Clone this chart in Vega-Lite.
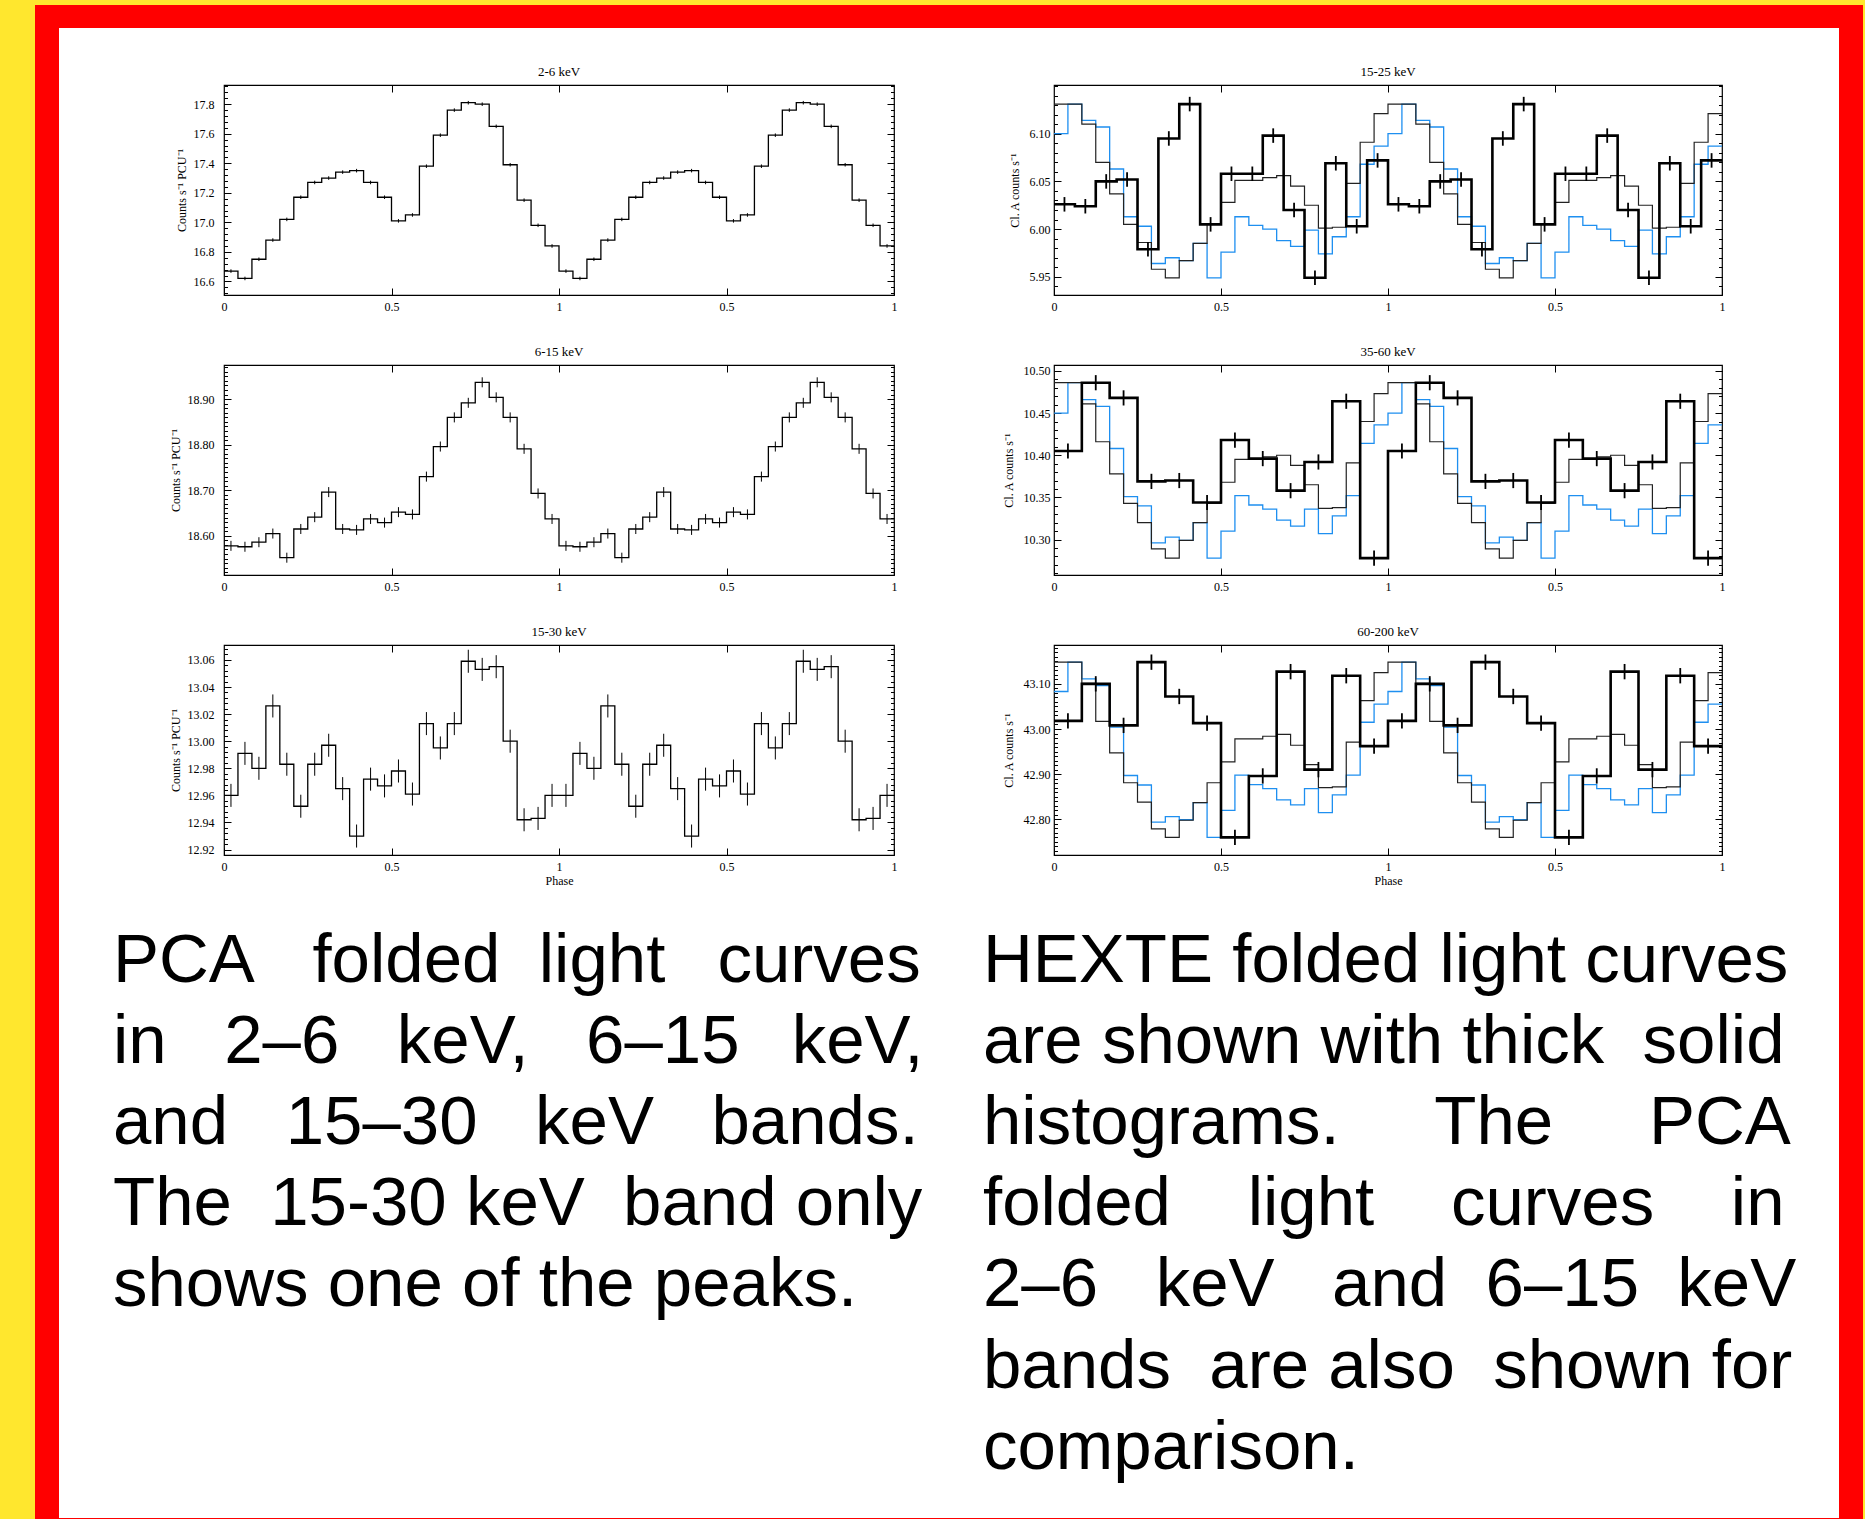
{
"$schema":"https://vega.github.io/schema/vega-lite/v6.json",
"background":"white",
"padding":0,
"spacing":0,
"config":{
 "view":{"stroke":null},
 "font":"Liberation Serif",
 "axis":{"domain":false,"grid":false,"labelFont":"Liberation Serif","labelFontSize":12,"labelColor":"black","titleFont":"Liberation Serif","titleFontSize":12,"titleFontWeight":"normal","titleColor":"black","tickColor":"black","tickWidth":1,"labelFlush":false,"labelOverlap":false,"labelBound":false},
 "axisX":{"titlePadding":3},
 "title":{"font":"Liberation Serif","fontSize":13,"fontWeight":"normal","color":"black","offset":6,"frame":"group","anchor":"middle"}
},
"datasets":{
"a26":[{"p":0,"v":16.67},{"p":0.0208,"v":16.67,"e":0.012},{"p":0.0625,"v":16.62,"e":0.012},{"p":0.1042,"v":16.75,"e":0.012},{"p":0.1458,"v":16.88,"e":0.012},{"p":0.1875,"v":17.02,"e":0.012},{"p":0.2292,"v":17.17,"e":0.012},{"p":0.2708,"v":17.27,"e":0.012},{"p":0.3125,"v":17.3,"e":0.012},{"p":0.3542,"v":17.34,"e":0.012},{"p":0.3958,"v":17.35,"e":0.012},{"p":0.4375,"v":17.27,"e":0.012},{"p":0.4792,"v":17.17,"e":0.012},{"p":0.5208,"v":17.01,"e":0.012},{"p":0.5625,"v":17.05,"e":0.012},{"p":0.6042,"v":17.38,"e":0.012},{"p":0.6458,"v":17.59,"e":0.012},{"p":0.6875,"v":17.76,"e":0.012},{"p":0.7292,"v":17.81,"e":0.012},{"p":0.7708,"v":17.8,"e":0.012},{"p":0.8125,"v":17.65,"e":0.012},{"p":0.8542,"v":17.39,"e":0.012},{"p":0.8958,"v":17.15,"e":0.012},{"p":0.9375,"v":16.98,"e":0.012},{"p":0.9792,"v":16.84,"e":0.012},
{"p":1.0208,"v":16.67,"e":0.012},{"p":1.0625,"v":16.62,"e":0.012},{"p":1.1042,"v":16.75,"e":0.012},{"p":1.1458,"v":16.88,"e":0.012},{"p":1.1875,"v":17.02,"e":0.012},{"p":1.2292,"v":17.17,"e":0.012},{"p":1.2708,"v":17.27,"e":0.012},{"p":1.3125,"v":17.3,"e":0.012},{"p":1.3542,"v":17.34,"e":0.012},{"p":1.3958,"v":17.35,"e":0.012},{"p":1.4375,"v":17.27,"e":0.012},{"p":1.4792,"v":17.17,"e":0.012},{"p":1.5208,"v":17.01,"e":0.012},{"p":1.5625,"v":17.05,"e":0.012},{"p":1.6042,"v":17.38,"e":0.012},{"p":1.6458,"v":17.59,"e":0.012},{"p":1.6875,"v":17.76,"e":0.012},{"p":1.7292,"v":17.81,"e":0.012},{"p":1.7708,"v":17.8,"e":0.012},{"p":1.8125,"v":17.65,"e":0.012},{"p":1.8542,"v":17.39,"e":0.012},{"p":1.8958,"v":17.15,"e":0.012},{"p":1.9375,"v":16.98,"e":0.012},{"p":1.9792,"v":16.84,"e":0.012},{"p":2,"v":16.84}],
"a615":[{"p":0,"v":18.578},{"p":0.0208,"v":18.578,"e":0.011},{"p":0.0625,"v":18.576,"e":0.011},{"p":0.1042,"v":18.586,"e":0.011},{"p":0.1458,"v":18.605,"e":0.011},{"p":0.1875,"v":18.552,"e":0.011},{"p":0.2292,"v":18.615,"e":0.011},{"p":0.2708,"v":18.641,"e":0.011},{"p":0.3125,"v":18.696,"e":0.011},{"p":0.3542,"v":18.615,"e":0.011},{"p":0.3958,"v":18.613,"e":0.011},{"p":0.4375,"v":18.637,"e":0.011},{"p":0.4792,"v":18.629,"e":0.011},{"p":0.5208,"v":18.652,"e":0.011},{"p":0.5625,"v":18.647,"e":0.011},{"p":0.6042,"v":18.73,"e":0.011},{"p":0.6458,"v":18.796,"e":0.011},{"p":0.6875,"v":18.86,"e":0.011},{"p":0.7292,"v":18.892,"e":0.011},{"p":0.7708,"v":18.937,"e":0.011},{"p":0.8125,"v":18.904,"e":0.011},{"p":0.8542,"v":18.86,"e":0.011},{"p":0.8958,"v":18.791,"e":0.011},{"p":0.9375,"v":18.693,"e":0.011},{"p":0.9792,"v":18.637,"e":0.011},
{"p":1.0208,"v":18.578,"e":0.011},{"p":1.0625,"v":18.576,"e":0.011},{"p":1.1042,"v":18.586,"e":0.011},{"p":1.1458,"v":18.605,"e":0.011},{"p":1.1875,"v":18.552,"e":0.011},{"p":1.2292,"v":18.615,"e":0.011},{"p":1.2708,"v":18.641,"e":0.011},{"p":1.3125,"v":18.696,"e":0.011},{"p":1.3542,"v":18.615,"e":0.011},{"p":1.3958,"v":18.613,"e":0.011},{"p":1.4375,"v":18.637,"e":0.011},{"p":1.4792,"v":18.629,"e":0.011},{"p":1.5208,"v":18.652,"e":0.011},{"p":1.5625,"v":18.647,"e":0.011},{"p":1.6042,"v":18.73,"e":0.011},{"p":1.6458,"v":18.796,"e":0.011},{"p":1.6875,"v":18.86,"e":0.011},{"p":1.7292,"v":18.892,"e":0.011},{"p":1.7708,"v":18.937,"e":0.011},{"p":1.8125,"v":18.904,"e":0.011},{"p":1.8542,"v":18.86,"e":0.011},{"p":1.8958,"v":18.791,"e":0.011},{"p":1.9375,"v":18.693,"e":0.011},{"p":1.9792,"v":18.637,"e":0.011},{"p":2,"v":18.637}],
"a1530":[{"p":0,"v":12.96},{"p":0.0208,"v":12.96,"e":0.0085},{"p":0.0625,"v":12.991,"e":0.0085},{"p":0.1042,"v":12.98,"e":0.0085},{"p":0.1458,"v":13.026,"e":0.0085},{"p":0.1875,"v":12.983,"e":0.0085},{"p":0.2292,"v":12.952,"e":0.0085},{"p":0.2708,"v":12.983,"e":0.0085},{"p":0.3125,"v":12.997,"e":0.0085},{"p":0.3542,"v":12.965,"e":0.0085},{"p":0.3958,"v":12.93,"e":0.0085},{"p":0.4375,"v":12.972,"e":0.0085},{"p":0.4792,"v":12.967,"e":0.0085},{"p":0.5208,"v":12.978,"e":0.0085},{"p":0.5625,"v":12.961,"e":0.0085},{"p":0.6042,"v":13.013,"e":0.0085},{"p":0.6458,"v":12.995,"e":0.0085},{"p":0.6875,"v":13.013,"e":0.0085},{"p":0.7292,"v":13.059,"e":0.0085},{"p":0.7708,"v":13.053,"e":0.0085},{"p":0.8125,"v":13.055,"e":0.0085},{"p":0.8542,"v":13.0,"e":0.0085},{"p":0.8958,"v":12.942,"e":0.0085},{"p":0.9375,"v":12.943,"e":0.0085},{"p":0.9792,"v":12.96,"e":0.0085},
{"p":1.0208,"v":12.96,"e":0.0085},{"p":1.0625,"v":12.991,"e":0.0085},{"p":1.1042,"v":12.98,"e":0.0085},{"p":1.1458,"v":13.026,"e":0.0085},{"p":1.1875,"v":12.983,"e":0.0085},{"p":1.2292,"v":12.952,"e":0.0085},{"p":1.2708,"v":12.983,"e":0.0085},{"p":1.3125,"v":12.997,"e":0.0085},{"p":1.3542,"v":12.965,"e":0.0085},{"p":1.3958,"v":12.93,"e":0.0085},{"p":1.4375,"v":12.972,"e":0.0085},{"p":1.4792,"v":12.967,"e":0.0085},{"p":1.5208,"v":12.978,"e":0.0085},{"p":1.5625,"v":12.961,"e":0.0085},{"p":1.6042,"v":13.013,"e":0.0085},{"p":1.6458,"v":12.995,"e":0.0085},{"p":1.6875,"v":13.013,"e":0.0085},{"p":1.7292,"v":13.059,"e":0.0085},{"p":1.7708,"v":13.053,"e":0.0085},{"p":1.8125,"v":13.055,"e":0.0085},{"p":1.8542,"v":13.0,"e":0.0085},{"p":1.8958,"v":12.942,"e":0.0085},{"p":1.9375,"v":12.943,"e":0.0085},{"p":1.9792,"v":12.96,"e":0.0085},{"p":2,"v":12.96}],
"h1525":[{"p":0,"v":6.026},{"p":0.0313,"v":6.026,"e":0.0076},{"p":0.0938,"v":6.024,"e":0.0076},{"p":0.1563,"v":6.05,"e":0.0076},{"p":0.2188,"v":6.052,"e":0.0076},{"p":0.2813,"v":5.979,"e":0.0076},{"p":0.3438,"v":6.095,"e":0.0076},{"p":0.4063,"v":6.131,"e":0.0076},{"p":0.4688,"v":6.005,"e":0.0076},{"p":0.5313,"v":6.058,"e":0.0076},{"p":0.5938,"v":6.058,"e":0.0076},{"p":0.6563,"v":6.098,"e":0.0076},{"p":0.7188,"v":6.02,"e":0.0076},{"p":0.7813,"v":5.949,"e":0.0076},{"p":0.8438,"v":6.069,"e":0.0076},{"p":0.9063,"v":6.003,"e":0.0076},{"p":0.9688,"v":6.072,"e":0.0076},
{"p":1.0313,"v":6.026,"e":0.0076},{"p":1.0938,"v":6.024,"e":0.0076},{"p":1.1563,"v":6.05,"e":0.0076},{"p":1.2188,"v":6.052,"e":0.0076},{"p":1.2813,"v":5.979,"e":0.0076},{"p":1.3438,"v":6.095,"e":0.0076},{"p":1.4063,"v":6.131,"e":0.0076},{"p":1.4688,"v":6.005,"e":0.0076},{"p":1.5313,"v":6.058,"e":0.0076},{"p":1.5938,"v":6.058,"e":0.0076},{"p":1.6563,"v":6.098,"e":0.0076},{"p":1.7188,"v":6.02,"e":0.0076},{"p":1.7813,"v":5.949,"e":0.0076},{"p":1.8438,"v":6.069,"e":0.0076},{"p":1.9063,"v":6.003,"e":0.0076},{"p":1.9688,"v":6.072,"e":0.0076},{"p":2,"v":6.072}],
"t1525":[{"p":0,"v":6.131},{"p":0.0208,"v":6.131},{"p":0.0625,"v":6.131},{"p":0.1042,"v":6.11},{"p":0.1458,"v":6.07},{"p":0.1875,"v":6.037},{"p":0.2292,"v":6.005},{"p":0.2708,"v":5.986},{"p":0.3125,"v":5.958},{"p":0.3542,"v":5.949},{"p":0.3958,"v":5.967},{"p":0.4375,"v":5.985},{"p":0.4792,"v":6.005},{"p":0.5208,"v":6.028},{"p":0.5625,"v":6.051},{"p":0.6042,"v":6.051},{"p":0.6458,"v":6.054},{"p":0.6875,"v":6.056},{"p":0.7292,"v":6.045},{"p":0.7708,"v":6.025},{"p":0.8125,"v":6.001},{"p":0.8542,"v":6.002},{"p":0.8958,"v":6.048},{"p":0.9375,"v":6.091},{"p":0.9792,"v":6.121},
{"p":1.0208,"v":6.131},{"p":1.0625,"v":6.131},{"p":1.1042,"v":6.11},{"p":1.1458,"v":6.07},{"p":1.1875,"v":6.037},{"p":1.2292,"v":6.005},{"p":1.2708,"v":5.986},{"p":1.3125,"v":5.958},{"p":1.3542,"v":5.949},{"p":1.3958,"v":5.967},{"p":1.4375,"v":5.985},{"p":1.4792,"v":6.005},{"p":1.5208,"v":6.028},{"p":1.5625,"v":6.051},{"p":1.6042,"v":6.051},{"p":1.6458,"v":6.054},{"p":1.6875,"v":6.056},{"p":1.7292,"v":6.045},{"p":1.7708,"v":6.025},{"p":1.8125,"v":6.001},{"p":1.8542,"v":6.002},{"p":1.8958,"v":6.048},{"p":1.9375,"v":6.091},{"p":1.9792,"v":6.121},{"p":2,"v":6.121}],
"b1525":[{"p":0,"v":6.1},{"p":0.0208,"v":6.1},{"p":0.0625,"v":6.131},{"p":0.1042,"v":6.114},{"p":0.1458,"v":6.107},{"p":0.1875,"v":6.063},{"p":0.2292,"v":6.013},{"p":0.2708,"v":6.003},{"p":0.3125,"v":5.964},{"p":0.3542,"v":5.97},{"p":0.3958,"v":5.967},{"p":0.4375,"v":5.985},{"p":0.4792,"v":5.949},{"p":0.5208,"v":5.976},{"p":0.5625,"v":6.013},{"p":0.6042,"v":6.004},{"p":0.6458,"v":6.0},{"p":0.6875,"v":5.988},{"p":0.7292,"v":5.982},{"p":0.7708,"v":5.999},{"p":0.8125,"v":5.974},{"p":0.8542,"v":5.992},{"p":0.8958,"v":6.013},{"p":0.9375,"v":6.068},{"p":0.9792,"v":6.087},
{"p":1.0208,"v":6.1},{"p":1.0625,"v":6.131},{"p":1.1042,"v":6.114},{"p":1.1458,"v":6.107},{"p":1.1875,"v":6.063},{"p":1.2292,"v":6.013},{"p":1.2708,"v":6.003},{"p":1.3125,"v":5.964},{"p":1.3542,"v":5.97},{"p":1.3958,"v":5.967},{"p":1.4375,"v":5.985},{"p":1.4792,"v":5.949},{"p":1.5208,"v":5.976},{"p":1.5625,"v":6.013},{"p":1.6042,"v":6.004},{"p":1.6458,"v":6.0},{"p":1.6875,"v":5.988},{"p":1.7292,"v":5.982},{"p":1.7708,"v":5.999},{"p":1.8125,"v":5.974},{"p":1.8542,"v":5.992},{"p":1.8958,"v":6.013},{"p":1.9375,"v":6.068},{"p":1.9792,"v":6.087},{"p":2,"v":6.087}],
"h3560":[{"p":0,"v":10.405},{"p":0.0417,"v":10.405,"e":0.009},{"p":0.125,"v":10.486,"e":0.009},{"p":0.2083,"v":10.468,"e":0.009},{"p":0.2917,"v":10.369,"e":0.009},{"p":0.375,"v":10.37,"e":0.009},{"p":0.4583,"v":10.344,"e":0.009},{"p":0.5417,"v":10.418,"e":0.009},{"p":0.625,"v":10.396,"e":0.009},{"p":0.7083,"v":10.358,"e":0.009},{"p":0.7917,"v":10.392,"e":0.009},{"p":0.875,"v":10.464,"e":0.009},{"p":0.9583,"v":10.278,"e":0.009},
{"p":1.0417,"v":10.405,"e":0.009},{"p":1.125,"v":10.486,"e":0.009},{"p":1.2083,"v":10.468,"e":0.009},{"p":1.2917,"v":10.369,"e":0.009},{"p":1.375,"v":10.37,"e":0.009},{"p":1.4583,"v":10.344,"e":0.009},{"p":1.5417,"v":10.418,"e":0.009},{"p":1.625,"v":10.396,"e":0.009},{"p":1.7083,"v":10.358,"e":0.009},{"p":1.7917,"v":10.392,"e":0.009},{"p":1.875,"v":10.464,"e":0.009},{"p":1.9583,"v":10.278,"e":0.009},{"p":2,"v":10.278}],
"t3560":[{"p":0,"v":10.486},{"p":0.0208,"v":10.486},{"p":0.0625,"v":10.486},{"p":0.1042,"v":10.461},{"p":0.1458,"v":10.416},{"p":0.1875,"v":10.378},{"p":0.2292,"v":10.343},{"p":0.2708,"v":10.32},{"p":0.3125,"v":10.289},{"p":0.3542,"v":10.278},{"p":0.3958,"v":10.299},{"p":0.4375,"v":10.32},{"p":0.4792,"v":10.343},{"p":0.5208,"v":10.368},{"p":0.5625,"v":10.395},{"p":0.6042,"v":10.395},{"p":0.6458,"v":10.398},{"p":0.6875,"v":10.4},{"p":0.7292,"v":10.388},{"p":0.7708,"v":10.365},{"p":0.8125,"v":10.337},{"p":0.8542,"v":10.338},{"p":0.8958,"v":10.391},{"p":0.9375,"v":10.44},{"p":0.9792,"v":10.473},
{"p":1.0208,"v":10.486},{"p":1.0625,"v":10.486},{"p":1.1042,"v":10.461},{"p":1.1458,"v":10.416},{"p":1.1875,"v":10.378},{"p":1.2292,"v":10.343},{"p":1.2708,"v":10.32},{"p":1.3125,"v":10.289},{"p":1.3542,"v":10.278},{"p":1.3958,"v":10.299},{"p":1.4375,"v":10.32},{"p":1.4792,"v":10.343},{"p":1.5208,"v":10.368},{"p":1.5625,"v":10.395},{"p":1.6042,"v":10.395},{"p":1.6458,"v":10.398},{"p":1.6875,"v":10.4},{"p":1.7292,"v":10.388},{"p":1.7708,"v":10.365},{"p":1.8125,"v":10.337},{"p":1.8542,"v":10.338},{"p":1.8958,"v":10.391},{"p":1.9375,"v":10.44},{"p":1.9792,"v":10.473},{"p":2,"v":10.473}],
"b3560":[{"p":0,"v":10.45},{"p":0.0208,"v":10.45},{"p":0.0625,"v":10.486},{"p":0.1042,"v":10.466},{"p":0.1458,"v":10.458},{"p":0.1875,"v":10.408},{"p":0.2292,"v":10.351},{"p":0.2708,"v":10.34},{"p":0.3125,"v":10.296},{"p":0.3542,"v":10.303},{"p":0.3958,"v":10.299},{"p":0.4375,"v":10.32},{"p":0.4792,"v":10.278},{"p":0.5208,"v":10.31},{"p":0.5625,"v":10.352},{"p":0.6042,"v":10.341},{"p":0.6458,"v":10.336},{"p":0.6875,"v":10.323},{"p":0.7292,"v":10.316},{"p":0.7708,"v":10.336},{"p":0.8125,"v":10.307},{"p":0.8542,"v":10.328},{"p":0.8958,"v":10.352},{"p":0.9375,"v":10.414},{"p":0.9792,"v":10.436},
{"p":1.0208,"v":10.45},{"p":1.0625,"v":10.486},{"p":1.1042,"v":10.466},{"p":1.1458,"v":10.458},{"p":1.1875,"v":10.408},{"p":1.2292,"v":10.351},{"p":1.2708,"v":10.34},{"p":1.3125,"v":10.296},{"p":1.3542,"v":10.303},{"p":1.3958,"v":10.299},{"p":1.4375,"v":10.32},{"p":1.4792,"v":10.278},{"p":1.5208,"v":10.31},{"p":1.5625,"v":10.352},{"p":1.6042,"v":10.341},{"p":1.6458,"v":10.336},{"p":1.6875,"v":10.323},{"p":1.7292,"v":10.316},{"p":1.7708,"v":10.336},{"p":1.8125,"v":10.307},{"p":1.8542,"v":10.328},{"p":1.8958,"v":10.352},{"p":1.9375,"v":10.414},{"p":1.9792,"v":10.436},{"p":2,"v":10.436}],
"h60":[{"p":0,"v":43.018},{"p":0.0417,"v":43.018,"e":0.017},{"p":0.125,"v":43.1,"e":0.017},{"p":0.2083,"v":43.008,"e":0.017},{"p":0.2917,"v":43.148,"e":0.017},{"p":0.375,"v":43.072,"e":0.017},{"p":0.4583,"v":43.013,"e":0.017},{"p":0.5417,"v":42.76,"e":0.017},{"p":0.625,"v":42.896,"e":0.017},{"p":0.7083,"v":43.127,"e":0.017},{"p":0.7917,"v":42.91,"e":0.017},{"p":0.875,"v":43.118,"e":0.017},{"p":0.9583,"v":42.962,"e":0.017},
{"p":1.0417,"v":43.018,"e":0.017},{"p":1.125,"v":43.1,"e":0.017},{"p":1.2083,"v":43.008,"e":0.017},{"p":1.2917,"v":43.148,"e":0.017},{"p":1.375,"v":43.072,"e":0.017},{"p":1.4583,"v":43.013,"e":0.017},{"p":1.5417,"v":42.76,"e":0.017},{"p":1.625,"v":42.896,"e":0.017},{"p":1.7083,"v":43.127,"e":0.017},{"p":1.7917,"v":42.91,"e":0.017},{"p":1.875,"v":43.118,"e":0.017},{"p":1.9583,"v":42.962,"e":0.017},{"p":2,"v":42.962}],
"t60":[{"p":0,"v":43.148},{"p":0.0208,"v":43.148},{"p":0.0625,"v":43.148},{"p":0.1042,"v":43.101},{"p":0.1458,"v":43.017},{"p":0.1875,"v":42.947},{"p":0.2292,"v":42.881},{"p":0.2708,"v":42.838},{"p":0.3125,"v":42.779},{"p":0.3542,"v":42.76},{"p":0.3958,"v":42.798},{"p":0.4375,"v":42.837},{"p":0.4792,"v":42.881},{"p":0.5208,"v":42.927},{"p":0.5625,"v":42.978},{"p":0.6042,"v":42.978},{"p":0.6458,"v":42.984},{"p":0.6875,"v":42.988},{"p":0.7292,"v":42.964},{"p":0.7708,"v":42.921},{"p":0.8125,"v":42.87},{"p":0.8542,"v":42.872},{"p":0.8958,"v":42.971},{"p":0.9375,"v":43.063},{"p":0.9792,"v":43.125},
{"p":1.0208,"v":43.148},{"p":1.0625,"v":43.148},{"p":1.1042,"v":43.101},{"p":1.1458,"v":43.017},{"p":1.1875,"v":42.947},{"p":1.2292,"v":42.881},{"p":1.2708,"v":42.838},{"p":1.3125,"v":42.779},{"p":1.3542,"v":42.76},{"p":1.3958,"v":42.798},{"p":1.4375,"v":42.837},{"p":1.4792,"v":42.881},{"p":1.5208,"v":42.927},{"p":1.5625,"v":42.978},{"p":1.6042,"v":42.978},{"p":1.6458,"v":42.984},{"p":1.6875,"v":42.988},{"p":1.7292,"v":42.964},{"p":1.7708,"v":42.921},{"p":1.8125,"v":42.87},{"p":1.8542,"v":42.872},{"p":1.8958,"v":42.971},{"p":1.9375,"v":43.063},{"p":1.9792,"v":43.125},{"p":2,"v":43.125}],
"b60":[{"p":0,"v":43.083},{"p":0.0208,"v":43.083},{"p":0.0625,"v":43.148},{"p":0.1042,"v":43.111},{"p":0.1458,"v":43.096},{"p":0.1875,"v":43.004},{"p":0.2292,"v":42.897},{"p":0.2708,"v":42.876},{"p":0.3125,"v":42.794},{"p":0.3542,"v":42.806},{"p":0.3958,"v":42.799},{"p":0.4375,"v":42.837},{"p":0.4792,"v":42.76},{"p":0.5208,"v":42.82},{"p":0.5625,"v":42.898},{"p":0.6042,"v":42.877},{"p":0.6458,"v":42.868},{"p":0.6875,"v":42.843},{"p":0.7292,"v":42.832},{"p":0.7708,"v":42.868},{"p":0.8125,"v":42.815},{"p":0.8542,"v":42.854},{"p":0.8958,"v":42.898},{"p":0.9375,"v":43.015},{"p":0.9792,"v":43.055},
{"p":1.0208,"v":43.083},{"p":1.0625,"v":43.148},{"p":1.1042,"v":43.111},{"p":1.1458,"v":43.096},{"p":1.1875,"v":43.004},{"p":1.2292,"v":42.897},{"p":1.2708,"v":42.876},{"p":1.3125,"v":42.794},{"p":1.3542,"v":42.806},{"p":1.3958,"v":42.799},{"p":1.4375,"v":42.837},{"p":1.4792,"v":42.76},{"p":1.5208,"v":42.82},{"p":1.5625,"v":42.898},{"p":1.6042,"v":42.877},{"p":1.6458,"v":42.868},{"p":1.6875,"v":42.843},{"p":1.7292,"v":42.832},{"p":1.7708,"v":42.868},{"p":1.8125,"v":42.815},{"p":1.8542,"v":42.854},{"p":1.8958,"v":42.898},{"p":1.9375,"v":43.015},{"p":1.9792,"v":43.055},{"p":2,"v":43.055}],
"capL":[{"line":1,"t":"PCA\u00a0\u00a0 folded\u00a0 light\u00a0\u2009 curves"},{"line":2,"t":"in\u00a0\u00a0 2–6\u00a0\u00a0 keV,\u00a0\u00a0 6–15\u00a0\u2009 keV,"},{"line":3,"t":"and\u00a0\u00a0 15–30\u00a0\u00a0 keV\u00a0\u00a0 bands."},{"line":4,"t":"The\u00a0 15-30 keV\u00a0 band only"},{"line":5,"t":"shows one of the peaks."}],
"capR":[{"line":1,"t":"HEXTE folded light curves"},{"line":2,"t":"are shown with thick\u00a0 solid"},{"line":3,"t":"histograms.\u00a0\u00a0\u00a0\u00a0 The\u00a0\u00a0\u00a0\u00a0 PCA"},{"line":4,"t":"folded\u00a0\u00a0\u00a0 light\u00a0\u00a0\u00a0 curves\u00a0\u00a0\u00a0 in"},{"line":5,"t":"2–6\u00a0\u00a0 keV\u00a0\u00a0 and\u00a0 6–15\u00a0 keV"},{"line":6,"t":"bands\u00a0 are also\u00a0 shown for"},{"line":7,"t":"comparison."}]
},
"hconcat":[
 {"width":35,"height":1519,"data":{"values":[]},"mark":"rect","view":{"fill":"#FFE72E","stroke":null}},
 {"spacing":0,"vconcat":[
  {"width":1828,"height":5,"data":{"values":[]},"mark":"rect","view":{"fill":"#FFE72E","stroke":null}},
  {"spacing":0,"hconcat":[
   {"width":24,"height":1514,"data":{"values":[]},"mark":"rect","view":{"fill":"#FF0000","stroke":null}},
   {"spacing":0,"vconcat":[
    {"width":1780,"height":23,"data":{"values":[]},"mark":"rect","view":{"fill":"#FF0000","stroke":null}},
    {"spacing":0,"vconcat":[
     {"width":1780,"height":36,"data":{"values":[]},"mark":"rect"},
     {"spacing":0,"hconcat":[
      {"width":109,"height":1,"data":{"values":[]},"mark":"rect"},
      {"spacing":31,"vconcat":[
       {"width":670,"height":210,"title":{"text":"2-6 keV"},"view":{"stroke":"black","strokeWidth":1.2},
        "resolve":{"axis":{"x":"independent","y":"independent"}},
        "layer":[
         {"data":{"name":"a26"},"mark":{"type":"line","interpolate":"step","color":"black","strokeWidth":1.3},
          "encoding":{"x":{"field":"p","type":"quantitative","scale":{"domain":[0,2],"nice":false,"zero":false},"axis":null},"y":{"field":"v","type":"quantitative","scale":{"domain":[16.508,17.93],"nice":false,"zero":false},"axis":null}}},
         {"data":{"name":"a26"},"transform":[{"filter":{"field":"e","valid":true}}],"mark":{"type":"errorbar","color":"black","thickness":1},
          "encoding":{"x":{"field":"p","type":"quantitative","axis":null},"y":{"field":"v","type":"quantitative","axis":null},"yError":{"field":"e"}}},
         {"data":{"name":"a26"},"mark":{"type":"point","opacity":0},
          "encoding":{"x":{"field":"p","type":"quantitative","axis":{"orient":"bottom","values":[0,0.5,1,1.5,2],"labelExpr":"datum.value > 1 ? '' + (datum.value - 1) : '' + datum.value","tickSize":-7,"labelPadding":13,"title":null}},
                      "y":{"field":"v","type":"quantitative","axis":{"orient":"left","values":[16.6,16.8,17.0,17.2,17.4,17.6,17.8],"format":".1f","tickSize":-7,"labelPadding":17,"title":"Counts s⁻¹ PCU⁻¹","titlePadding":5}}}},
         {"data":{"name":"a26"},"mark":{"type":"point","opacity":0},
          "encoding":{"x":{"field":"p","type":"quantitative","axis":{"orient":"top","values":[0.5,1,1.5],"labels":false,"tickSize":-7,"title":null}},
                      "y":{"field":"v","type":"quantitative","axis":{"orient":"right","values":[16.6,16.8,17.0,17.2,17.4,17.6,17.8],"labels":false,"tickSize":-7,"title":null}}}},
         {"data":{"name":"a26"},"mark":{"type":"point","opacity":0},
          "encoding":{"x":{"field":"p","type":"quantitative","axis":null},
                      "y":{"field":"v","type":"quantitative","axis":{"orient":"left","values":[16.52,16.56,16.6,16.64,16.68,16.72,16.76,16.8,16.84,16.88,16.92,16.96,17,17.04,17.08,17.12,17.16,17.2,17.24,17.28,17.32,17.36,17.4,17.44,17.48,17.52,17.56,17.6,17.64,17.68,17.72,17.76,17.8,17.84,17.88,17.92],"labels":false,"tickSize":-3.5,"title":null}}}},
         {"data":{"name":"a26"},"mark":{"type":"point","opacity":0},
          "encoding":{"x":{"field":"p","type":"quantitative","axis":null},
                      "y":{"field":"v","type":"quantitative","axis":{"orient":"right","values":[16.52,16.56,16.6,16.64,16.68,16.72,16.76,16.8,16.84,16.88,16.92,16.96,17,17.04,17.08,17.12,17.16,17.2,17.24,17.28,17.32,17.36,17.4,17.44,17.48,17.52,17.56,17.6,17.64,17.68,17.72,17.76,17.8,17.84,17.88,17.92],"labels":false,"tickSize":-3.5,"title":null}}}}
        ]},
       {"width":670,"height":210,"title":{"text":"6-15 keV"},"view":{"stroke":"black","strokeWidth":1.2},
        "resolve":{"axis":{"x":"independent","y":"independent"}},
        "layer":[
         {"data":{"name":"a615"},"mark":{"type":"line","interpolate":"step","color":"black","strokeWidth":1.3},
          "encoding":{"x":{"field":"p","type":"quantitative","scale":{"domain":[0,2],"nice":false,"zero":false},"axis":null},"y":{"field":"v","type":"quantitative","scale":{"domain":[18.514,18.975],"nice":false,"zero":false},"axis":null}}},
         {"data":{"name":"a615"},"transform":[{"filter":{"field":"e","valid":true}}],"mark":{"type":"errorbar","color":"black","thickness":1},
          "encoding":{"x":{"field":"p","type":"quantitative","axis":null},"y":{"field":"v","type":"quantitative","axis":null},"yError":{"field":"e"}}},
         {"data":{"name":"a615"},"mark":{"type":"point","opacity":0},
          "encoding":{"x":{"field":"p","type":"quantitative","axis":{"orient":"bottom","values":[0,0.5,1,1.5,2],"labelExpr":"datum.value > 1 ? '' + (datum.value - 1) : '' + datum.value","tickSize":-7,"labelPadding":13,"title":null}},
                      "y":{"field":"v","type":"quantitative","axis":{"orient":"left","values":[18.6,18.7,18.8,18.9],"format":".2f","tickSize":-7,"labelPadding":17,"title":"Counts s⁻¹ PCU⁻¹","titlePadding":5}}}},
         {"data":{"name":"a615"},"mark":{"type":"point","opacity":0},
          "encoding":{"x":{"field":"p","type":"quantitative","axis":{"orient":"top","values":[0.5,1,1.5],"labels":false,"tickSize":-7,"title":null}},
                      "y":{"field":"v","type":"quantitative","axis":{"orient":"right","values":[18.6,18.7,18.8,18.9],"labels":false,"tickSize":-7,"title":null}}}},
         {"data":{"name":"a615"},"mark":{"type":"point","opacity":0},
          "encoding":{"x":{"field":"p","type":"quantitative","axis":null},
                      "y":{"field":"v","type":"quantitative","axis":{"orient":"left","values":[18.52,18.53,18.54,18.55,18.56,18.57,18.58,18.59,18.6,18.61,18.62,18.63,18.64,18.65,18.66,18.67,18.68,18.69,18.7,18.71,18.72,18.73,18.74,18.75,18.76,18.77,18.78,18.79,18.8,18.81,18.82,18.83,18.84,18.85,18.86,18.87,18.88,18.89,18.9,18.91,18.92,18.93,18.94,18.95,18.96,18.97],"labels":false,"tickSize":-3.5,"title":null}}}},
         {"data":{"name":"a615"},"mark":{"type":"point","opacity":0},
          "encoding":{"x":{"field":"p","type":"quantitative","axis":null},
                      "y":{"field":"v","type":"quantitative","axis":{"orient":"right","values":[18.52,18.53,18.54,18.55,18.56,18.57,18.58,18.59,18.6,18.61,18.62,18.63,18.64,18.65,18.66,18.67,18.68,18.69,18.7,18.71,18.72,18.73,18.74,18.75,18.76,18.77,18.78,18.79,18.8,18.81,18.82,18.83,18.84,18.85,18.86,18.87,18.88,18.89,18.9,18.91,18.92,18.93,18.94,18.95,18.96,18.97],"labels":false,"tickSize":-3.5,"title":null}}}}
        ]},
       {"width":670,"height":210,"title":{"text":"15-30 keV"},"view":{"stroke":"black","strokeWidth":1.2},
        "resolve":{"axis":{"x":"independent","y":"independent"}},
        "layer":[
         {"data":{"name":"a1530"},"mark":{"type":"line","interpolate":"step","color":"black","strokeWidth":1.3},
          "encoding":{"x":{"field":"p","type":"quantitative","scale":{"domain":[0,2],"nice":false,"zero":false},"axis":null},"y":{"field":"v","type":"quantitative","scale":{"domain":[12.916,13.071],"nice":false,"zero":false},"axis":null}}},
         {"data":{"name":"a1530"},"transform":[{"filter":{"field":"e","valid":true}}],"mark":{"type":"errorbar","color":"black","thickness":1},
          "encoding":{"x":{"field":"p","type":"quantitative","axis":null},"y":{"field":"v","type":"quantitative","axis":null},"yError":{"field":"e"}}},
         {"data":{"name":"a1530"},"mark":{"type":"point","opacity":0},
          "encoding":{"x":{"field":"p","type":"quantitative","axis":{"orient":"bottom","values":[0,0.5,1,1.5,2],"labelExpr":"datum.value > 1 ? '' + (datum.value - 1) : '' + datum.value","tickSize":-7,"labelPadding":13,"title":"Phase"}},
                      "y":{"field":"v","type":"quantitative","axis":{"orient":"left","values":[12.92,12.94,12.96,12.98,13.0,13.02,13.04,13.06],"format":".2f","tickSize":-7,"labelPadding":17,"title":"Counts s⁻¹ PCU⁻¹","titlePadding":5}}}},
         {"data":{"name":"a1530"},"mark":{"type":"point","opacity":0},
          "encoding":{"x":{"field":"p","type":"quantitative","axis":{"orient":"top","values":[0.5,1,1.5],"labels":false,"tickSize":-7,"title":null}},
                      "y":{"field":"v","type":"quantitative","axis":{"orient":"right","values":[12.92,12.94,12.96,12.98,13.0,13.02,13.04,13.06],"labels":false,"tickSize":-7,"title":null}}}},
         {"data":{"name":"a1530"},"mark":{"type":"point","opacity":0},
          "encoding":{"x":{"field":"p","type":"quantitative","axis":null},
                      "y":{"field":"v","type":"quantitative","axis":{"orient":"left","values":[12.92,12.924,12.928,12.932,12.936,12.94,12.944,12.948,12.952,12.956,12.96,12.964,12.968,12.972,12.976,12.98,12.984,12.988,12.992,12.996,13.0,13.004,13.008,13.012,13.016,13.02,13.024,13.028,13.032,13.036,13.04,13.044,13.048,13.052,13.056,13.06,13.064,13.068],"labels":false,"tickSize":-3.5,"title":null}}}},
         {"data":{"name":"a1530"},"mark":{"type":"point","opacity":0},
          "encoding":{"x":{"field":"p","type":"quantitative","axis":null},
                      "y":{"field":"v","type":"quantitative","axis":{"orient":"right","values":[12.92,12.924,12.928,12.932,12.936,12.94,12.944,12.948,12.952,12.956,12.96,12.964,12.968,12.972,12.976,12.98,12.984,12.988,12.992,12.996,13.0,13.004,13.008,13.012,13.016,13.02,13.024,13.028,13.032,13.036,13.04,13.044,13.048,13.052,13.056,13.06,13.064,13.068],"labels":false,"tickSize":-3.5,"title":null}}}}
        ]}
      ]},
      {"width":103,"height":1,"data":{"values":[]},"mark":"rect"},
      {"spacing":31,"vconcat":[
       {"width":668,"height":210,"title":{"text":"15-25 keV"},"view":{"stroke":"black","strokeWidth":1.2},
        "resolve":{"axis":{"x":"independent","y":"independent"}},
        "layer":[
         {"data":{"name":"b1525"},"mark":{"type":"line","interpolate":"step","color":"#1E8FF0","strokeWidth":1.3},
          "encoding":{"x":{"field":"p","type":"quantitative","scale":{"domain":[0,2],"nice":false,"zero":false},"axis":null},"y":{"field":"v","type":"quantitative","scale":{"domain":[5.931,6.151],"nice":false,"zero":false},"axis":null}}},
         {"data":{"name":"t1525"},"mark":{"type":"line","interpolate":"step","color":"#222222","strokeWidth":1.2},
          "encoding":{"x":{"field":"p","type":"quantitative","axis":null},"y":{"field":"v","type":"quantitative","axis":null}}},
         {"data":{"name":"h1525"},"mark":{"type":"line","interpolate":"step","color":"black","strokeWidth":2.6},
          "encoding":{"x":{"field":"p","type":"quantitative","axis":null},"y":{"field":"v","type":"quantitative","axis":null}}},
         {"data":{"name":"h1525"},"transform":[{"filter":{"field":"e","valid":true}}],"mark":{"type":"errorbar","color":"black","thickness":1.8},
          "encoding":{"x":{"field":"p","type":"quantitative","axis":null},"y":{"field":"v","type":"quantitative","axis":null},"yError":{"field":"e"}}},
         {"data":{"name":"h1525"},"mark":{"type":"point","opacity":0},
          "encoding":{"x":{"field":"p","type":"quantitative","axis":{"orient":"bottom","values":[0,0.5,1,1.5,2],"labelExpr":"datum.value > 1 ? '' + (datum.value - 1) : '' + datum.value","tickSize":-7,"labelPadding":13,"title":null}},
                      "y":{"field":"v","type":"quantitative","axis":{"orient":"left","values":[5.95,6.0,6.05,6.1],"format":".2f","tickSize":-7,"labelPadding":11,"title":"Cl. A counts s⁻¹","titlePadding":8}}}},
         {"data":{"name":"h1525"},"mark":{"type":"point","opacity":0},
          "encoding":{"x":{"field":"p","type":"quantitative","axis":{"orient":"top","values":[0.5,1,1.5],"labels":false,"tickSize":-7,"title":null}},
                      "y":{"field":"v","type":"quantitative","axis":{"orient":"right","values":[5.95,6.0,6.05,6.1],"labels":false,"tickSize":-7,"title":null}}}},
         {"data":{"name":"h1525"},"mark":{"type":"point","opacity":0},
          "encoding":{"x":{"field":"p","type":"quantitative","axis":null},
                      "y":{"field":"v","type":"quantitative","axis":{"orient":"left","values":[5.94,5.95,5.96,5.97,5.98,5.99,6,6.01,6.02,6.03,6.04,6.05,6.06,6.07,6.08,6.09,6.1,6.11,6.12,6.13,6.14,6.15],"labels":false,"tickSize":-3.5,"title":null}}}},
         {"data":{"name":"h1525"},"mark":{"type":"point","opacity":0},
          "encoding":{"x":{"field":"p","type":"quantitative","axis":null},
                      "y":{"field":"v","type":"quantitative","axis":{"orient":"right","values":[5.94,5.95,5.96,5.97,5.98,5.99,6,6.01,6.02,6.03,6.04,6.05,6.06,6.07,6.08,6.09,6.1,6.11,6.12,6.13,6.14,6.15],"labels":false,"tickSize":-3.5,"title":null}}}}
        ]},
       {"width":668,"height":210,"title":{"text":"35-60 keV"},"view":{"stroke":"black","strokeWidth":1.2},
        "resolve":{"axis":{"x":"independent","y":"independent"}},
        "layer":[
         {"data":{"name":"b3560"},"mark":{"type":"line","interpolate":"step","color":"#1E8FF0","strokeWidth":1.3},
          "encoding":{"x":{"field":"p","type":"quantitative","scale":{"domain":[0,2],"nice":false,"zero":false},"axis":null},"y":{"field":"v","type":"quantitative","scale":{"domain":[10.258,10.507],"nice":false,"zero":false},"axis":null}}},
         {"data":{"name":"t3560"},"mark":{"type":"line","interpolate":"step","color":"#222222","strokeWidth":1.2},
          "encoding":{"x":{"field":"p","type":"quantitative","axis":null},"y":{"field":"v","type":"quantitative","axis":null}}},
         {"data":{"name":"h3560"},"mark":{"type":"line","interpolate":"step","color":"black","strokeWidth":2.6},
          "encoding":{"x":{"field":"p","type":"quantitative","axis":null},"y":{"field":"v","type":"quantitative","axis":null}}},
         {"data":{"name":"h3560"},"transform":[{"filter":{"field":"e","valid":true}}],"mark":{"type":"errorbar","color":"black","thickness":1.8},
          "encoding":{"x":{"field":"p","type":"quantitative","axis":null},"y":{"field":"v","type":"quantitative","axis":null},"yError":{"field":"e"}}},
         {"data":{"name":"h3560"},"mark":{"type":"point","opacity":0},
          "encoding":{"x":{"field":"p","type":"quantitative","axis":{"orient":"bottom","values":[0,0.5,1,1.5,2],"labelExpr":"datum.value > 1 ? '' + (datum.value - 1) : '' + datum.value","tickSize":-7,"labelPadding":13,"title":null}},
                      "y":{"field":"v","type":"quantitative","axis":{"orient":"left","values":[10.3,10.35,10.4,10.45,10.5],"format":".2f","tickSize":-7,"labelPadding":11,"title":"Cl. A counts s⁻¹","titlePadding":8}}}},
         {"data":{"name":"h3560"},"mark":{"type":"point","opacity":0},
          "encoding":{"x":{"field":"p","type":"quantitative","axis":{"orient":"top","values":[0.5,1,1.5],"labels":false,"tickSize":-7,"title":null}},
                      "y":{"field":"v","type":"quantitative","axis":{"orient":"right","values":[10.3,10.35,10.4,10.45,10.5],"labels":false,"tickSize":-7,"title":null}}}},
         {"data":{"name":"h3560"},"mark":{"type":"point","opacity":0},
          "encoding":{"x":{"field":"p","type":"quantitative","axis":null},
                      "y":{"field":"v","type":"quantitative","axis":{"orient":"left","values":[10.26,10.27,10.28,10.29,10.3,10.31,10.32,10.33,10.34,10.35,10.36,10.37,10.38,10.39,10.4,10.41,10.42,10.43,10.44,10.45,10.46,10.47,10.48,10.49,10.5],"labels":false,"tickSize":-3.5,"title":null}}}},
         {"data":{"name":"h3560"},"mark":{"type":"point","opacity":0},
          "encoding":{"x":{"field":"p","type":"quantitative","axis":null},
                      "y":{"field":"v","type":"quantitative","axis":{"orient":"right","values":[10.26,10.27,10.28,10.29,10.3,10.31,10.32,10.33,10.34,10.35,10.36,10.37,10.38,10.39,10.4,10.41,10.42,10.43,10.44,10.45,10.46,10.47,10.48,10.49,10.5],"labels":false,"tickSize":-3.5,"title":null}}}}
        ]},
       {"width":668,"height":210,"title":{"text":"60-200 keV"},"view":{"stroke":"black","strokeWidth":1.2},
        "resolve":{"axis":{"x":"independent","y":"independent"}},
        "layer":[
         {"data":{"name":"b60"},"mark":{"type":"line","interpolate":"step","color":"#1E8FF0","strokeWidth":1.3},
          "encoding":{"x":{"field":"p","type":"quantitative","scale":{"domain":[0,2],"nice":false,"zero":false},"axis":null},"y":{"field":"v","type":"quantitative","scale":{"domain":[42.721,43.186],"nice":false,"zero":false},"axis":null}}},
         {"data":{"name":"t60"},"mark":{"type":"line","interpolate":"step","color":"#222222","strokeWidth":1.2},
          "encoding":{"x":{"field":"p","type":"quantitative","axis":null},"y":{"field":"v","type":"quantitative","axis":null}}},
         {"data":{"name":"h60"},"mark":{"type":"line","interpolate":"step","color":"black","strokeWidth":2.6},
          "encoding":{"x":{"field":"p","type":"quantitative","axis":null},"y":{"field":"v","type":"quantitative","axis":null}}},
         {"data":{"name":"h60"},"transform":[{"filter":{"field":"e","valid":true}}],"mark":{"type":"errorbar","color":"black","thickness":1.8},
          "encoding":{"x":{"field":"p","type":"quantitative","axis":null},"y":{"field":"v","type":"quantitative","axis":null},"yError":{"field":"e"}}},
         {"data":{"name":"h60"},"mark":{"type":"point","opacity":0},
          "encoding":{"x":{"field":"p","type":"quantitative","axis":{"orient":"bottom","values":[0,0.5,1,1.5,2],"labelExpr":"datum.value > 1 ? '' + (datum.value - 1) : '' + datum.value","tickSize":-7,"labelPadding":13,"title":"Phase"}},
                      "y":{"field":"v","type":"quantitative","axis":{"orient":"left","values":[42.8,42.9,43.0,43.1],"format":".2f","tickSize":-7,"labelPadding":11,"title":"Cl. A counts s⁻¹","titlePadding":8}}}},
         {"data":{"name":"h60"},"mark":{"type":"point","opacity":0},
          "encoding":{"x":{"field":"p","type":"quantitative","axis":{"orient":"top","values":[0.5,1,1.5],"labels":false,"tickSize":-7,"title":null}},
                      "y":{"field":"v","type":"quantitative","axis":{"orient":"right","values":[42.8,42.9,43.0,43.1],"labels":false,"tickSize":-7,"title":null}}}},
         {"data":{"name":"h60"},"mark":{"type":"point","opacity":0},
          "encoding":{"x":{"field":"p","type":"quantitative","axis":null},
                      "y":{"field":"v","type":"quantitative","axis":{"orient":"left","values":[42.73,42.74,42.75,42.76,42.77,42.78,42.79,42.8,42.81,42.82,42.83,42.84,42.85,42.86,42.87,42.88,42.89,42.9,42.91,42.92,42.93,42.94,42.95,42.96,42.97,42.98,42.99,43.0,43.01,43.02,43.03,43.04,43.05,43.06,43.07,43.08,43.09,43.1,43.11,43.12,43.13,43.14,43.15,43.16,43.17,43.18],"labels":false,"tickSize":-3.5,"title":null}}}},
         {"data":{"name":"h60"},"mark":{"type":"point","opacity":0},
          "encoding":{"x":{"field":"p","type":"quantitative","axis":null},
                      "y":{"field":"v","type":"quantitative","axis":{"orient":"right","values":[42.73,42.74,42.75,42.76,42.77,42.78,42.79,42.8,42.81,42.82,42.83,42.84,42.85,42.86,42.87,42.88,42.89,42.9,42.91,42.92,42.93,42.94,42.95,42.96,42.97,42.98,42.99,43.0,43.01,43.02,43.03,43.04,43.05,43.06,43.07,43.08,43.09,43.1,43.11,43.12,43.13,43.14,43.15,43.16,43.17,43.18],"labels":false,"tickSize":-3.5,"title":null}}}}
        ]}
      ]}
     ]},
     {"width":1780,"height":38,"data":{"values":[]},"mark":"rect"},
     {"spacing":0,"hconcat":[
      {"width":54,"height":1,"data":{"values":[]},"mark":"rect"},
      {"width":870,"height":568,"data":{"name":"capL"},"mark":{"type":"text","font":"Liberation Sans","fontSize":69,"align":"left","baseline":"alphabetic","color":"black"},
       "encoding":{"x":{"datum":0,"type":"quantitative","scale":{"domain":[0,1]},"axis":null},"y":{"field":"line","type":"quantitative","scale":{"domain":[0.3,7.3],"reverse":true,"nice":false,"zero":false},"axis":null},"text":{"field":"t"}}},
      {"width":800,"height":568,"data":{"name":"capR"},"mark":{"type":"text","font":"Liberation Sans","fontSize":69,"align":"left","baseline":"alphabetic","color":"black"},
       "encoding":{"x":{"datum":0,"type":"quantitative","scale":{"domain":[0,1]},"axis":null},"y":{"field":"line","type":"quantitative","scale":{"domain":[0.3,7.3],"reverse":true,"nice":false,"zero":false},"axis":null},"text":{"field":"t"}}}
     ]},
     {"width":1780,"height":25,"data":{"values":[]},"mark":"rect"}
    ]},
    {"width":1780,"height":3,"data":{"values":[]},"mark":"rect","view":{"fill":"#FF0000","stroke":null}}
   ]},
   {"width":24,"height":1514,"data":{"values":[]},"mark":"rect","view":{"fill":"#FF0000","stroke":null}}
  ]}
 ]},
 {"width":2,"height":1519,"data":{"values":[]},"mark":"rect","view":{"fill":"#FFE72E","stroke":null}}
]
}
